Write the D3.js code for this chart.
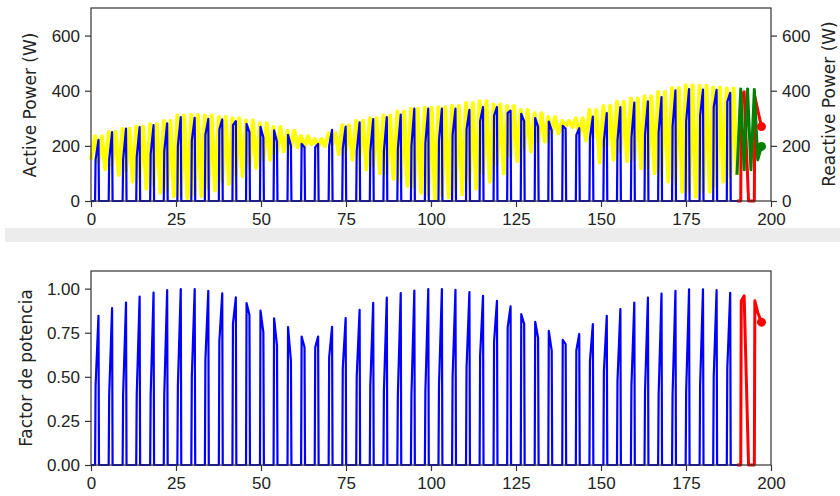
<!DOCTYPE html>
<html>
<head>
<meta charset="utf-8">
<script src="https://cdn.jsdelivr.net/npm/d3@7"></script>
<style>
  body { margin: 0; background: #fff; }
  svg { display: block; font-family: "DejaVu Sans", sans-serif; }
</style>
</head>
<body>
<div id="chart"></div>
<script>
// one entry per load cycle (time of the peak sample, in s)
var cycleT = [2.2, 6.2, 10.3, 14.3, 18.4, 22.4, 26.4, 30.5, 34.5, 38.6, 42.6, 46.6, 50.7, 54.7, 58.8,
  62.8, 66.8, 70.9, 74.9, 79.0, 83.0, 87.0, 91.1, 95.1, 99.2, 103.2, 107.2, 111.3, 115.3, 119.4,
  123.4, 127.4, 131.5, 135.5, 139.6, 143.6, 147.6, 151.7, 155.7, 159.8, 163.8, 167.8, 171.9, 175.9,
  180.0, 184.0, 188.0, 192.1, 196.1];

// active power, first and second sample of each spike (W)
var activeA = [150, 150, 150, 160, 170, 180, 200, 220, 240, 260, 275, 280, 269, 256, 240, 207, 195, 200,
  190, 180, 180, 180, 190, 200, 210, 220, 240, 260, 290, 310, 320, 316, 301, 288, 273, 240, 230, 220,
  220, 230, 240, 250, 270, 290, 310, 340, 360, 380, 379];
var activeB = [222, 250, 263, 268, 275, 282, 304, 302, 298, 296, 290, 250, 230, 215, 200, 195, 207, 258,
  270, 285, 297, 304, 313, 335, 335, 335, 335, 331, 341, 341, 328, 290, 270, 255, 262, 264, 306, 319,
  341, 357, 361, 377, 401, 406, 404, 403, 392, 396, 330];

// reactive power: high, value at the spike, low between spikes (VAr)
var reactiveHi = [235, 250, 262, 270, 278, 290, 310, 312, 310, 305, 300, 292, 282, 268, 255, 235, 225, 245,
  275, 290, 300, 310, 325, 335, 338, 340, 345, 355, 362, 350, 345, 330, 318, 305, 290, 300, 330, 345,
  360, 372, 380, 395, 410, 420, 418, 412, 408, 406, 404];
var reactiveAtSpike = [140, 129, 111, 83, 59, 38, 19, 23, 46, 70, 95, 121, 149, 171, 191, 195, 195, 204,
  179, 154, 127, 101, 73, 50, 21, 21, 40, 66, 101, 134, 160, 192, 216, 245, 271, 238, 230, 201, 180,
  151, 120, 91, 65, 36, 36, 54, 87, 113, 149];
var reactiveLo = [115, 95, 70, 45, 30, 18, 10, 18, 38, 62, 90, 120, 150, 180, 195, 205, 200, 170, 150, 115,
  100, 80, 55, 30, 8, 14, 25, 45, 70, 100, 145, 180, 215, 245, 268, 220, 140, 150, 145, 119, 101, 70,
  34, 16, 34, 70, 95, 113, 149];

// power factor, first and second sample of each spike
var pfA = [0.45, 0.40, 0.40, 0.40, 0.40, 0.40, 0.45, 0.50, 0.60, 0.70, 0.80, 0.918, 0.875, 0.832, 0.782,
  0.728, 0.667, 0.61, 0.55, 0.50, 0.45, 0.42, 0.40, 0.40, 0.42, 0.45, 0.50, 0.55, 0.62, 0.70, 0.78,
  0.855, 0.812, 0.761, 0.709, 0.649, 0.59, 0.53, 0.48, 0.45, 0.42, 0.40, 0.40, 0.42, 0.45, 0.50, 0.55,
  0.93, 0.931];
var pfB = [0.846, 0.889, 0.921, 0.955, 0.978, 0.991, 0.998, 0.997, 0.988, 0.973, 0.950, 0.85, 0.75, 0.68,
  0.59, 0.667, 0.728, 0.784, 0.833, 0.880, 0.919, 0.949, 0.974, 0.989, 0.998, 0.998, 0.993, 0.981,
  0.959, 0.931, 0.899, 0.80, 0.72, 0.649, 0.686, 0.743, 0.799, 0.846, 0.884, 0.921, 0.949, 0.972,
  0.987, 0.996, 0.996, 0.991, 0.976, 0.959, 0.865];

// time after the peak at which each spike is back at zero
var dropAfter = [0.15, 0.15, 0.15, 0.15, 0.15, 0.15, 0.15, 0.15, 0.15, 0.15, 0.15, 0.15, 0.15, 0.15, 0.15,
  0.15, 0.15, 0.15, 0.15, 0.15, 0.15, 0.15, 0.15, 0.15, 0.15, 0.15, 0.15, 0.15, 0.15, 0.15, 0.15, 0.15,
  0.15, 0.15, 0.15, 0.15, 0.15, 0.15, 0.15, 0.15, 0.15, 0.15, 0.15, 0.15, 0.15, 0.15, 0.15, 1.3, 0.15];

var reactiveStart = 150;
var switchTime = 190;      // colours change here
var endTime = 197.2;       // last sample, marked with a dot
var endActive = 270, endReactive = 198, endPF = 0.81;

var xTicks = [0, 25, 50, 75, 100, 125, 150, 175, 200];
var powerTicks = [0, 200, 400, 600];
var pfTicks = [0, 0.25, 0.5, 0.75, 1.0];

var W = 840, H = 496;
var svg = d3.select("#chart").append("svg").attr("width", W).attr("height", H);

svg.append("rect").attr("x", 5).attr("y", 228).attr("width", W - 5).attr("height", 14).attr("fill", "#ececec");

var x = d3.scaleLinear().domain([0, 200]).range([91, 771]);
var yP = d3.scaleLinear().domain([0, 700]).range([201, 8]);
var yF = d3.scaleLinear().domain([0, 1.1]).range([465, 271]);

// build spike lines from the per-cycle samples
function spikes(a, b, endVal) {
  var pts = [[0, 0]];
  cycleT.forEach(function(t, k) {
    pts.push([t - 1.0, 0], [t - 0.85, a[k]], [t, b[k]]);
    if (k == cycleT.length - 1) pts.push([endTime, endVal]);
    else pts.push([t + dropAfter[k], 0]);
  });
  return pts;
}
function reactive() {
  var pts = [[0, reactiveStart]];
  cycleT.forEach(function(t, k) {
    pts.push([t - 1, reactiveHi[k]], [t, reactiveAtSpike[k]]);
    if (k == cycleT.length - 1) pts.push([endTime, endReactive]);
    else pts.push([t + 1, reactiveHi[k]], [t + 2, reactiveLo[k]]);
  });
  return pts;
}
function before(pts) { return pts.filter(function(d) { return d[0] <= switchTime; }); }
function after(pts) { return pts.filter(function(d) { return d[0] >= switchTime; }); }

var pPts = spikes(activeA, activeB, endActive);
var qPts = reactive();
var fPts = spikes(pfA, pfB, endPF);
var pBlue = before(pPts).concat([[switchTime, 0]]);
var pRed = [[switchTime, 0]].concat(after(pPts));
var fBlue = before(fPts).concat([[switchTime, 0]]);
var fRed = [[switchTime, 0]].concat(after(fPts));

function drawLine(g, pts, y, color, width) {
  var line = d3.line().x(function(d) { return x(d[0]); }).y(function(d) { return y(d[1]); });
  g.append("path").datum(pts).attr("d", line)
    .attr("fill", "none").attr("stroke", color).attr("stroke-width", width)
    .attr("stroke-linejoin", "round");
}
function dot(g, px, py, color) {
  g.append("circle").attr("cx", px).attr("cy", py).attr("r", 4.5).attr("fill", color);
}

function styleAxis(g) {
  g.select(".domain").remove();
  g.selectAll(".tick line").attr("stroke", "#333").attr("stroke-width", 1.2);
  g.selectAll(".tick text").attr("fill", "#222").style("font-size", "17px");
}

function frame(y) {
  svg.append("rect").attr("x", 91).attr("y", y.range()[1]).attr("width", 680)
    .attr("height", y.range()[0] - y.range()[1])
    .attr("fill", "none").attr("stroke", "#333").attr("stroke-width", 1.2);
}

// top panel: reactive underneath the blue spikes, the last cycles on top
var topG = svg.append("g");
drawLine(topG, before(qPts), yP, "#ffff00", 4);
drawLine(topG, pBlue, yP, "#0000ff", 2.2);
drawLine(topG, pRed, yP, "#ff0000", 3);
drawLine(topG, after(qPts), yP, "#008000", 3);
dot(topG, x(endTime), yP(endActive), "#ff0000");
dot(topG, x(endTime), yP(endReactive), "#008000");
frame(yP);

svg.append("g").attr("transform", "translate(0,201)")
  .call(d3.axisBottom(x).tickValues(xTicks).tickSize(6).tickPadding(6).tickFormat(d3.format("d")))
  .call(styleAxis);
svg.append("g").attr("transform", "translate(91,0)")
  .call(d3.axisLeft(yP).tickValues(powerTicks).tickSize(6).tickPadding(5).tickFormat(d3.format("d")))
  .call(styleAxis);
svg.append("g").attr("transform", "translate(771,0)")
  .call(d3.axisRight(yP).tickValues(powerTicks).tickSize(6).tickPadding(5).tickFormat(d3.format("d")))
  .call(styleAxis);

svg.append("text").attr("transform", "translate(31,105) rotate(-90)")
  .attr("text-anchor", "middle").attr("dominant-baseline", "middle")
  .style("font-size", "17px").attr("fill", "#222").text("Active Power (W)");
svg.append("text").attr("transform", "translate(830,104) rotate(-90)")
  .attr("text-anchor", "middle").attr("dominant-baseline", "middle")
  .style("font-size", "17px").attr("fill", "#222").text("Reactive Power (W)");

// bottom panel
var bottomG = svg.append("g");
drawLine(bottomG, fBlue, yF, "#0000ff", 2.2);
drawLine(bottomG, fRed, yF, "#ff0000", 3);
dot(bottomG, x(endTime), yF(endPF), "#ff0000");
frame(yF);

svg.append("g").attr("transform", "translate(0,465)")
  .call(d3.axisBottom(x).tickValues(xTicks).tickSize(6).tickPadding(6).tickFormat(d3.format("d")))
  .call(styleAxis);
svg.append("g").attr("transform", "translate(91,0)")
  .call(d3.axisLeft(yF).tickValues(pfTicks).tickSize(6).tickPadding(5).tickFormat(d3.format(".2f")))
  .call(styleAxis);

svg.append("text").attr("transform", "translate(27,368) rotate(-90)")
  .attr("text-anchor", "middle").attr("dominant-baseline", "middle")
  .style("font-size", "17px").attr("fill", "#222").text("Factor de potencia");
</script>
</body>
</html>
